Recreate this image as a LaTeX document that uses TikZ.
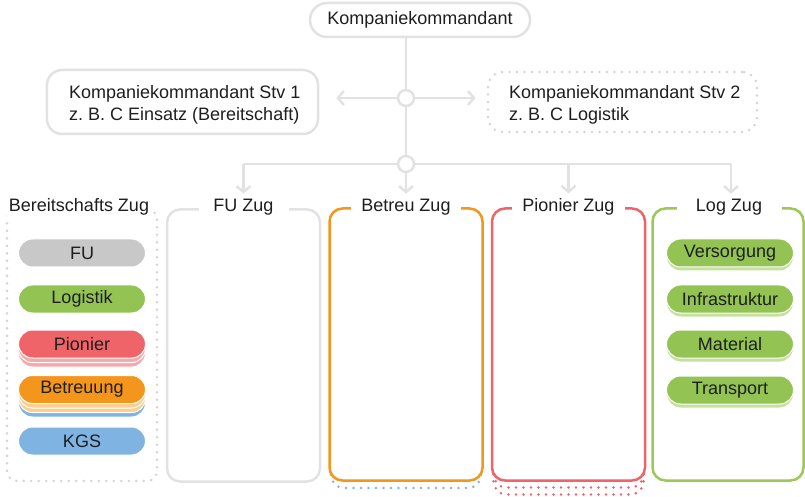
\documentclass[tikz,border=0pt]{standalone}
\usepackage{fontspec}
\setmainfont{Liberation Sans}
\frenchspacing
\usetikzlibrary{arrows.meta}
\definecolor{txt}{HTML}{1E1E1E}
\definecolor{lgrey}{HTML}{E2E2E2}
\definecolor{dgrey}{HTML}{D4D4D4}
\definecolor{pgrey}{HTML}{C8C8C8}
\definecolor{pgreen}{HTML}{92C353}
\definecolor{pgreenl}{HTML}{C6E0A0}
\definecolor{bgreen}{HTML}{9CC85A}
\definecolor{pred}{HTML}{EE6468}
\definecolor{predl}{HTML}{F5A9AB}
\definecolor{porange}{HTML}{F4961C}
\definecolor{porangel}{HTML}{FBCF90}
\definecolor{pblue}{HTML}{7FB3E2}
\begin{document}
\begin{tikzpicture}[x=1bp,y=-1bp,
  every node/.style={font=\fontsize{18bp}{22bp}\selectfont, text=txt},
  conn/.style={draw=lgrey, line width=2.5bp},
  arr/.tip={Straight Barb[length=6bp,width=14bp]},
  hub/.style={circle, draw=lgrey, fill=white, line width=2.5bp, minimum size=16bp, inner sep=0pt},
  solidbox/.style={draw=lgrey, line width=2.5bp, rounded corners=15bp, inner sep=0pt},
  dotbox/.style={line width=2.8bp, rounded corners=15bp, inner sep=0pt, line cap=round, dash pattern=on 0bp off 7.5bp},
  colbox/.style={line width=2.5bp, rounded corners=13bp, fill=white, minimum width=153bp, minimum height=272bp, inner sep=0pt},
  coltitle/.style={fill=white, inner xsep=10bp, inner ysep=2bp, minimum width=90bp},
  pill/.style={rounded corners=14bp, minimum width=127bp, minimum height=28bp, inner sep=0pt, draw=white, line width=1bp},
  lbl/.style={anchor=west, align=left, inner sep=0pt}
]
\useasboundingbox (0,0) rectangle (805,497);

% top
\node[solidbox, minimum width=220bp, minimum height=34bp, rounded corners=17bp] (kk) at (420,20) {Kompaniekommandant};
\node[hub] (c1) at (406,98) {};
\node[hub] (c2) at (406,164) {};

% deputies
\node[solidbox, minimum width=271bp, minimum height=64bp] (s1) at (182.5,102) {};
\node[lbl] (s1t) at (69,104.5) {Kompaniekommandant Stv 1\\z. B. C Einsatz (Bereitschaft)};
\node[dotbox, draw=dgrey, minimum width=269bp, minimum height=60bp] (s2) at (622.5,102) {};
\node[lbl] (s2t) at (509,104.5) {Kompaniekommandant Stv 2\\z. B. C Logistik};

% bus coordinates
\coordinate (b1) at (243.5,164);
\coordinate (b3) at (568.5,164);
\coordinate (b4) at (731,164);

% Bereitschafts Zug
\node[dotbox, draw=dgrey, minimum width=150bp, minimum height=272bp, rounded corners=10bp] (bz) at (82,345) {};
\node[fill=white, inner xsep=2bp, inner ysep=2bp] (bzt) at (79,207) {Bereitschafts Zug};

% FU Zug
\node[colbox, draw=lgrey] (z1) at (243.5,345.5) {};
\node[coltitle] (t1) at (243.5,207) {FU Zug};

% Betreu Zug
\node[colbox, dotbox, draw=pblue, fill=white, rounded corners=13bp, minimum width=150bp] (z2s) at (406,352) {};
\node[colbox, draw=porange] (z2) at (406,344.5) {};
\node[coltitle] (t2) at (406,207) {Betreu Zug};

% Pionier Zug
\node[colbox, dotbox, draw=pred, fill=white, rounded corners=13bp, minimum width=150bp] (z3s2) at (568.5,358.5) {};
\node[colbox, dotbox, draw=pred, fill=white, rounded corners=13bp, minimum width=150bp] (z3s1) at (568.5,351.5) {};
\node[colbox, draw=pred] (z3) at (568.5,344.5) {};
\node[coltitle] (t3) at (568.5,207) {Pionier Zug};

% Log Zug
\node[colbox, draw=bgreen, minimum width=151bp] (z4) at (728,344.5) {};
\node[coltitle, minimum width=105bp] (t4) at (729,207) {Log Zug};

% connectors
\draw[conn] (kk.south -| c1) -- (c1);
\draw[conn] (c1) -- (c2);
\draw[conn, -arr] (c1) -- (c1 -| s1.east) [shorten >=17bp];
\draw[conn, -arr] (c1) -- (c1 -| s2.west) [shorten >=11bp];
\draw[conn] (b1) -- (c2);
\draw[conn] (c2) -- (b4);
\draw[conn, -arr, shorten >=3bp] (b1) -- (b1 |- t1.north);
\draw[conn, -arr, shorten >=3bp] (c2) -- (c2 |- t2.north);
\draw[conn, -arr, shorten >=3bp] (b3) -- (b3 |- t3.north);
\draw[conn, -arr, shorten >=3bp] (b4) -- (b4 |- t4.north);

% Bereitschafts pills
\node[pill, fill=pgrey] (pfu) at (82,253) {FU};
\node[pill, fill=pgreen] (plo) at (82,299) {Logistik};
\node[pill, fill=predl] (ppi2) at (82,353) {};
\node[pill, fill=predl] (ppi1) at (82,348.5) {};
\node[pill, fill=pred] (ppi) at (82,344) {Pionier};
\node[pill, fill=pblue] (pbe3) at (82,403) {};
\node[pill, fill=porangel] (pbe2) at (82,398.5) {};
\node[pill, fill=porangel] (pbe1) at (82,394) {};
\node[pill, fill=porange] (pbe) at (82,389.5) {Betreuung};
\node[pill, fill=pblue] (pkg) at (82,441) {KGS};

% Log pills
\foreach \n/\y/\t in {v/253/Versorgung, i/299/Infrastruktur, m/344/Material, t/390/Transport}{
  \node[pill, fill=pgreenl] (l\n s) at (730,\y+4) {};
  \node[pill, fill=pgreen] (l\n) at (730,\y) {\t};
}
\end{tikzpicture}
\end{document}
